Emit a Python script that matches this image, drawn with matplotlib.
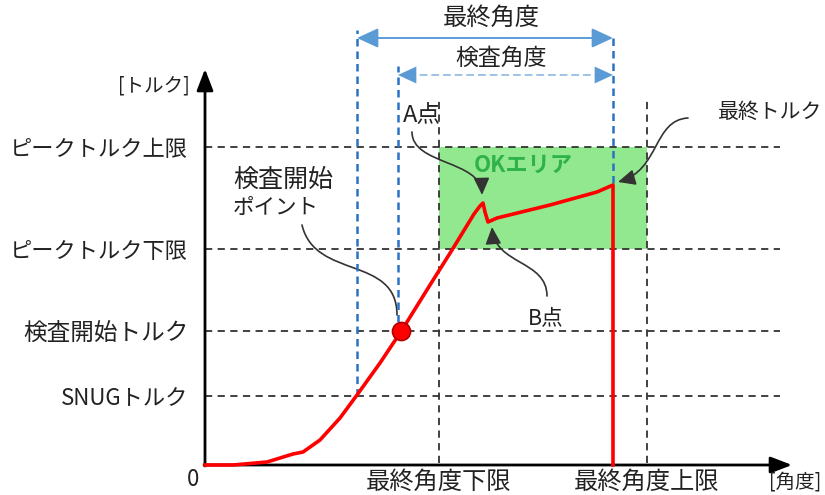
import matplotlib
matplotlib.use('Agg')
import matplotlib.pyplot as plt
from matplotlib.path import Path
from matplotlib.patches import Rectangle, FancyArrowPatch

plt.rcParams['font.family'] = ['Noto Sans CJK JP', 'DejaVu Sans']

# トルクのレベル (縦軸) と角度のレベル (横軸)
torque_names = ['SNUGトルク', '検査開始トルク', 'ピークトルク下限', 'ピークトルク上限']
torque_levels = [69, 134, 216, 318]
angle_names = ['最終角度下限', '最終角度上限']
angle_levels = [234, 442]

snug_angle = 152
check_angle = 193
final_angle = 408
check_point = (196, 134)

# 締付けカーブ
curve_angle = [0, 28, 62, 88, 98, 115, 135, 152, 175, 197, 225, 247, 269, 275,
               278, 280, 283, 292, 345, 392, 408, 408]
curve_torque = [0, 0, 3, 11, 13, 25, 47, 70, 102, 135, 180, 215, 251, 259,
                262, 253, 243, 247, 260, 273, 280, 0]

TXT = '#222222'
BLUE = '#5b9bd5'
GRID = '#333333'


def curve_arrow(ax, pts, style):
    codes = [Path.MOVETO, Path.CURVE4, Path.CURVE4, Path.CURVE4]
    p = FancyArrowPatch(path=Path(pts, codes), arrowstyle=style,
                        mutation_scale=16, color='#333333', lw=1.2,
                        transform=ax.transData, clip_on=False)
    ax.add_patch(p)


fig = plt.figure(figsize=(8.25, 4.95), dpi=100)
ax = fig.add_axes([205 / 825, 30 / 495, 585 / 825, 395 / 495])
ax.set_xlim(0, 585)
ax.set_ylim(0, 395)
for s in ax.spines.values():
    s.set_visible(False)

ax.set_yticks(torque_levels)
ax.set_yticklabels(torque_names, fontsize=16, color=TXT)
ax.get_yticklabels()[1].set_fontsize(17)
ax.set_xticks(angle_levels)
ax.set_xticklabels(angle_names, fontsize=17.5, color=TXT)
ax.tick_params(axis='y', length=0, pad=12)
ax.tick_params(axis='x', length=0, pad=3)

# OKエリア
ax.add_patch(Rectangle((angle_levels[0], torque_levels[2]),
                       angle_levels[1] - angle_levels[0],
                       torque_levels[3] - torque_levels[2],
                       facecolor='#92e88f', edgecolor='none', zorder=0))

# 破線
ax.hlines(torque_levels, 0, 575, colors=GRID, linestyles=(0, (4, 3)), lw=1.3,
          clip_on=False, zorder=1)
ax.vlines(angle_levels, 2, 365, colors=GRID, linestyles=(0, (4, 3)), lw=1.3,
          clip_on=False, zorder=1)

# 青い破線
blue_kw = dict(colors='#2a72c4', linestyles=(0, (3, 2)), lw=1.8, clip_on=False, zorder=2)
ax.vlines(snug_angle, torque_levels[0], 435, **blue_kw)
ax.vlines(check_angle, 143, 399, **blue_kw)
ax.vlines(final_angle, 282, 431, **blue_kw)

# 角度の矢印
ax.annotate('', xy=(final_angle, 427), xytext=(snug_angle, 427),
            arrowprops=dict(arrowstyle='<|-|>,head_length=0.65,head_width=0.3',
                            color=BLUE, lw=1.4, mutation_scale=20,
                            shrinkA=0, shrinkB=0), annotation_clip=False)
ax.plot([check_angle + 10, final_angle - 10], [390, 390], color='#9dc3e6',
        lw=1.4, ls=(0, (4, 2)), clip_on=False)
for a, b in [(check_angle + 14, check_angle), (final_angle - 14, final_angle)]:
    ax.annotate('', xy=(b, 390), xytext=(a, 390),
                arrowprops=dict(arrowstyle='-|>,head_length=0.65,head_width=0.3',
                                color=BLUE, lw=0.1, mutation_scale=20,
                                shrinkA=0, shrinkB=0), annotation_clip=False)
ax.text(286, 447, '最終角度', fontsize=17.5, color=TXT, ha='center', va='center')
ax.text(296, 407, '検査角度', fontsize=16.5, color=TXT, ha='center', va='center')

# 軸
axis_kw = dict(arrowstyle='-|>,head_length=0.65,head_width=0.25', color='black',
               lw=2, mutation_scale=20, shrinkA=0, shrinkB=0)
ax.annotate('', xy=(587, 0), xytext=(-1, 0), arrowprops=axis_kw, annotation_clip=False)
ax.annotate('', xy=(0, 396), xytext=(0, -1), arrowprops=axis_kw, annotation_clip=False)
ax.text(-15, 379, '[トルク]', fontsize=14, color=TXT, ha='right', va='center')
ax.text(-12, -15, '0', fontsize=16, color=TXT, ha='center', va='center')
ax.text(616, -17, '[角度]', fontsize=14, color=TXT, ha='right', va='center')

# カーブ
ax.plot(curve_angle, curve_torque, color='#ff0000', lw=2.6, clip_on=False,
        zorder=4, solid_joinstyle='round')
ax.plot(*check_point, 'o', ms=13, mfc='#ff0000', mec='#b00000', mew=1.2,
        zorder=5, clip_on=False)

# 注記
ax.text(318, 300, 'OKエリア', fontsize=16, color='#2fb24a', fontweight='bold',
        ha='center', va='center')
ax.text(198, 350, 'A点', fontsize=17, color=TXT, ha='left', va='center')
ax.text(513, 353, '最終トルク', fontsize=15, color=TXT, ha='left', va='center')
ax.text(28, 285, '検査開始', fontsize=18, color=TXT, ha='left', va='center')
ax.text(28, 257, 'ポイント', fontsize=15.5, color=TXT, ha='left', va='center')
ax.text(323, 147, 'B点', fontsize=15.5, color=TXT, ha='left', va='center')

head = '-|>,head_length=0.65,head_width=0.3'
curve_arrow(ax, [(207, 333), (207, 300), (276, 305), (277, 270)], head)
curve_arrow(ax, [(483, 347), (448, 345), (455, 295), (413, 283)], head)
curve_arrow(ax, [(342, 169), (342, 205), (290, 200), (287, 238)], head)
curve_arrow(ax, [(97, 240), (110, 185), (192, 210), (192, 150)], '-')

fig.savefig('out.png', dpi=100)
